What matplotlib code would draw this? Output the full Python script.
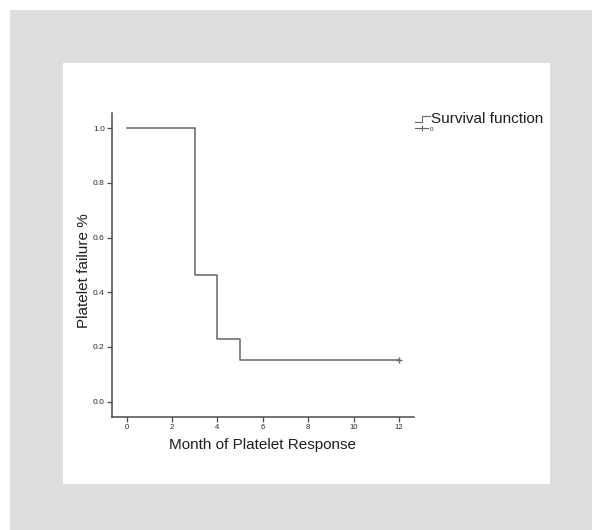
import matplotlib
matplotlib.use("Agg")
import matplotlib.pyplot as plt
from matplotlib.patches import Rectangle
from matplotlib.lines import Line2D

# Kaplan-Meier step values
months = [0, 3, 4, 5, 12]
survival = [1.0, 0.462, 0.231, 0.154, 0.154]
censored_months = [12]
censored_survival = [0.154]
x_ticks = [0, 2, 4, 6, 8, 10, 12]
y_ticks = [0.0, 0.2, 0.4, 0.6, 0.8, 1.0]

W, H = 592, 530
plt.rcParams['font.family'] = ['Liberation Sans', 'DejaVu Sans']

fig = plt.figure(figsize=(W / 100, H / 100), dpi=100)
fig.patch.set_facecolor('white')

def px_rect(x0, y0, x1, y1, color):
	r = Rectangle((x0 / W, 1 - y1 / H), (x1 - x0) / W, (y1 - y0) / H,
				  transform=fig.transFigure, facecolor=color, edgecolor='none', zorder=-10)
	fig.add_artist(r)

px_rect(10, 10, W, H, '#dcdddf')
px_rect(63, 63, 550, 484, 'white')

ax = fig.add_axes([111.7 / W, 1 - 416.7 / H, (414 - 111.7) / W, (416.7 - 113) / H])
ax.set_facecolor('none')

line_col = '#666666'
ax.step(months, survival, where='post', color=line_col, linewidth=1.1)
ax.plot(censored_months, censored_survival, linestyle='none', marker='+',
		color=line_col, markersize=5, markeredgewidth=1.0)

ax.set_xlim(-0.66, 12.66)
ax.set_ylim(-0.055, 1.056)
ax.set_xticks(x_ticks)
ax.set_yticks(y_ticks)
ax.set_xticklabels([str(t) for t in x_ticks])
ax.set_yticklabels(['%.1f' % t for t in y_ticks])

for s in ['top', 'right']:
	ax.spines[s].set_visible(False)
for s in ['left', 'bottom']:
	ax.spines[s].set_color('#4a4a4a')
	ax.spines[s].set_linewidth(1.1)

ax.tick_params(axis='both', direction='out', length=3.5, width=0.9, color='#4a4a4a',
			   labelcolor='#2a2a2a', pad=1.5)
ax.tick_params(axis='x', labelsize=5.5)
ax.tick_params(axis='y', labelsize=6)

ax.set_xlabel('Month of Platelet Response', fontsize=11, color='#1e1e1e', labelpad=5)
ax.set_ylabel('Platelet failure %', fontsize=11, color='#1e1e1e')
ax.yaxis.set_label_coords(-0.068, 0.48)

# legend drawn by hand, like the SPSS one
def fx(x):
	return x / W

def fy(y):
	return 1 - y / H

fig.add_artist(Line2D([fx(415), fx(422), fx(422), fx(430)], [fy(122), fy(122), fy(116), fy(116)],
					  transform=fig.transFigure, color=line_col, linewidth=0.8))
fig.add_artist(Line2D([fx(415), fx(428)], [fy(128), fy(128)],
					  transform=fig.transFigure, color=line_col, linewidth=0.8))
fig.add_artist(Line2D([fx(421.5)], [fy(128)], transform=fig.transFigure, linestyle='none',
					  marker='+', markersize=5, markeredgewidth=0.8, color=line_col))
fig.text(fx(431), fy(119), 'Survival function', fontsize=11, color='#1e1e1e', va='center', ha='left')
fig.text(fx(430), fy(129.5), '0', fontsize=4.5, color='#333333', va='center', ha='left')

fig.savefig('out.png', dpi=100)
